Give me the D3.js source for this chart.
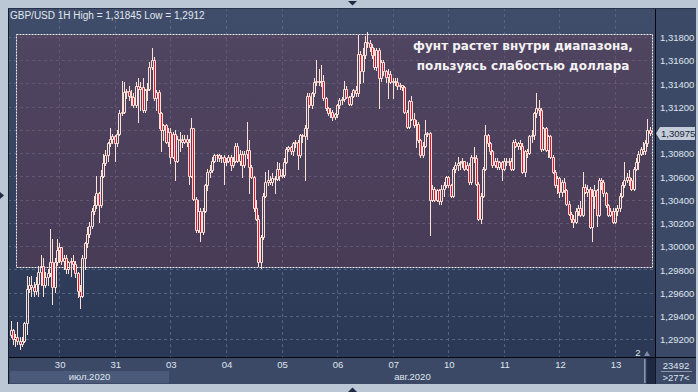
<!DOCTYPE html>
<html>
<head>
<meta charset="utf-8">
<script src="https://cdn.jsdelivr.net/npm/d3@7"></script>
<style>
  html, body { margin: 0; padding: 0; background: #bcc7d6; }
  svg { display: block; }
</style>
</head>
<body>
<svg id="chart" width="698" height="392"></svg>
<script>
//=================== DATA ====================================
var titleText = "GBP/USD 1H High = 1,31845 Low = 1,2912";
var noteLines = ["фунт растет внутри диапазона,", "пользуясь слабостью доллара"];

// hourly bars, 29.07.2020 03:00 .. 13.08.2020 12:00
var opens = [
 1.2924,1.2928,1.2921,1.2922,1.2919,1.2916,1.2919,1.2934,1.2964,1.2967,1.2965,1.2962,
 1.2968,1.2978,1.2983,1.2967,1.2974,1.2977,1.2987,1.2965,1.2987,1.2997,1.3000,1.2988,
 1.2990,1.2981,1.2987,1.2988,1.2985,1.2977,1.2962,1.2958,1.2990,1.3003,1.3011,1.3018,
 1.3031,1.3036,1.3046,1.3036,1.3061,1.3072,1.3079,1.3089,1.3093,1.3095,1.3089,1.3097,
 1.3115,1.3116,1.3133,1.3134,1.3130,1.3129,1.3122,1.3138,1.3136,1.3137,1.3118,1.3135,
 1.3136,1.3155,1.3161,1.3128,1.3133,1.3115,1.3100,1.3105,1.3090,1.3099,1.3077,1.3097,
 1.3074,1.3093,1.3092,1.3090,1.3093,1.3090,1.3061,1.3102,1.3041,1.3014,1.3031,1.3013,
 1.3031,1.3053,1.3064,1.3066,1.3074,1.3079,1.3079,1.3076,1.3077,1.3073,1.3074,1.3077,
 1.3070,1.3074,1.3087,1.3074,1.3080,1.3070,1.3080,1.3083,1.3069,1.3060,1.3033,1.3024,
 1.2987,1.3008,1.3044,1.3056,1.3057,1.3056,1.3059,1.3058,1.3067,1.3061,1.3062,1.3073,
 1.3084,1.3086,1.3082,1.3089,1.3090,1.3079,1.3096,1.3095,1.3102,1.3130,1.3122,1.3132,
 1.3142,1.3143,1.3142,1.3143,1.3128,1.3119,1.3115,1.3116,1.3112,1.3114,1.3122,1.3126,
 1.3127,1.3136,1.3129,1.3123,1.3130,1.3135,1.3132,1.3166,1.3151,1.3165,1.3176,1.3175,
 1.3172,1.3165,1.3155,1.3169,1.3145,1.3159,1.3151,1.3146,1.3149,1.3142,1.3143,1.3142,
 1.3138,1.3139,1.3137,1.3116,1.3103,1.3125,1.3110,1.3105,1.3106,1.3092,1.3079,1.3087,
 1.3097,1.3098,1.3040,1.3050,1.3040,1.3049,1.3039,1.3050,1.3053,1.3060,1.3053,1.3044,
 1.3067,1.3070,1.3072,1.3073,1.3074,1.3067,1.3070,1.3056,1.3077,1.3076,1.3054,1.3024,
 1.3044,1.3067,1.3096,1.3089,1.3082,1.3070,1.3074,1.3069,1.3073,1.3067,1.3074,1.3073,
 1.3074,1.3067,1.3090,1.3087,1.3089,1.3087,1.3064,1.3082,1.3081,1.3095,1.3096,1.3115,
 1.3119,1.3118,1.3084,1.3102,1.3083,1.3095,1.3077,1.3064,1.3053,1.3059,1.3047,1.3056,
 1.3049,1.3037,1.3028,1.3024,1.3021,1.3031,1.3033,1.3027,1.3051,1.3047,1.3050,1.3017,
 1.3044,1.3049,1.3027,1.3057,1.3056,1.3046,1.3036,1.3027,1.3031,1.3021,1.3031,1.3033,
 1.3044,1.3053,1.3057,1.3060,1.3057,1.3050,1.3067,1.3073,1.3080,1.3084,1.3082,1.3089,
 1.3100
];
var highs = [
 1.2936,1.2929,1.2925,1.2935,1.2922,1.2922,1.2935,1.2975,1.2974,1.2975,1.2970,1.2974,
 1.2983,1.2993,1.2990,1.2978,1.2981,1.3015,1.3007,1.2990,1.3007,1.3003,1.3000,1.2993,
 1.2993,1.2988,1.2990,1.2993,1.2988,1.2978,1.2967,1.2993,1.3004,1.3017,1.3021,1.3033,
 1.3044,1.3061,1.3047,1.3066,1.3080,1.3083,1.3090,1.3102,1.3097,1.3096,1.3100,1.3118,
 1.3143,1.3142,1.3136,1.3138,1.3135,1.3132,1.3142,1.3145,1.3142,1.3145,1.3136,1.3141,
 1.3159,1.3171,1.3163,1.3135,1.3135,1.3116,1.3106,1.3106,1.3102,1.3102,1.3099,1.3100,
 1.3095,1.3099,1.3096,1.3096,1.3096,1.3093,1.3111,1.3102,1.3043,1.3040,1.3033,1.3033,
 1.3054,1.3067,1.3070,1.3077,1.3080,1.3080,1.3080,1.3079,1.3079,1.3076,1.3079,1.3079,
 1.3077,1.3089,1.3089,1.3083,1.3082,1.3082,1.3107,1.3092,1.3070,1.3061,1.3040,1.3027,
 1.3010,1.3046,1.3064,1.3066,1.3061,1.3063,1.3061,1.3073,1.3072,1.3067,1.3076,1.3086,
 1.3087,1.3087,1.3090,1.3092,1.3092,1.3097,1.3097,1.3105,1.3132,1.3132,1.3133,1.3145,
 1.3161,1.3153,1.3156,1.3148,1.3129,1.3120,1.3119,1.3118,1.3115,1.3123,1.3128,1.3129,
 1.3143,1.3138,1.3130,1.3132,1.3136,1.3138,1.3182,1.3168,1.3171,1.3181,1.31845,1.3178,
 1.3174,1.3171,1.3171,1.3171,1.3161,1.3161,1.3152,1.3153,1.3151,1.3145,1.3145,1.3145,
 1.3141,1.3139,1.3138,1.3118,1.3126,1.3130,1.3115,1.3109,1.3107,1.3093,1.3090,1.3109,
 1.3099,1.3099,1.3053,1.3051,1.3050,1.3050,1.3053,1.3056,1.3061,1.3061,1.3054,1.3069,
 1.3073,1.3077,1.3074,1.3076,1.3074,1.3073,1.3072,1.3079,1.3086,1.3079,1.3056,1.3046,
 1.3069,1.3105,1.3097,1.3090,1.3083,1.3076,1.3076,1.3074,1.3074,1.3076,1.3076,1.3076,
 1.3076,1.3092,1.3093,1.3090,1.3092,1.3089,1.3083,1.3084,1.3096,1.3100,1.3116,1.3132,
 1.3126,1.3119,1.3103,1.3103,1.3096,1.3096,1.3079,1.3066,1.3061,1.3060,1.3057,1.3059,
 1.3050,1.3039,1.3030,1.3027,1.3033,1.3036,1.3039,1.3064,1.3054,1.3053,1.3051,1.3050,
 1.3053,1.3050,1.3059,1.3059,1.3057,1.3047,1.3037,1.3033,1.3033,1.3033,1.3036,1.3046,
 1.3056,1.3073,1.3063,1.3066,1.3059,1.3069,1.3076,1.3082,1.3086,1.3090,1.3092,1.3110,
 1.3103
];
var lows = [
 1.2922,1.2916,1.2915,1.2916,1.2912,1.2915,1.2918,1.2925,1.2961,1.2958,1.2958,1.2959,
 1.2958,1.2967,1.2958,1.2965,1.2967,1.2975,1.2951,1.2961,1.2984,1.2987,1.2985,1.2981,
 1.2977,1.2977,1.2975,1.2981,1.2974,1.2957,1.2947,1.2957,1.2981,1.3000,1.3008,1.3016,
 1.3028,1.3033,1.3021,1.3034,1.3060,1.3070,1.3074,1.3087,1.3089,1.3074,1.3087,1.3096,
 1.3113,1.3115,1.3128,1.3126,1.3122,1.3120,1.3120,1.3107,1.3118,1.3116,1.3116,1.3126,
 1.3135,1.3153,1.3126,1.3118,1.3102,1.3082,1.3092,1.3089,1.3087,1.3072,1.3076,1.3057,
 1.3073,1.3082,1.3086,1.3089,1.3087,1.3054,1.3060,1.3040,1.3013,1.3013,1.3005,1.3011,
 1.3030,1.3049,1.3060,1.3064,1.3073,1.3074,1.3074,1.3073,1.3054,1.3070,1.3073,1.3066,
 1.3069,1.3073,1.3073,1.3070,1.3060,1.3069,1.3076,1.3046,1.3059,1.3031,1.3023,1.2983,
 1.2982,1.3007,1.3043,1.3053,1.3054,1.3053,1.3046,1.3057,1.3057,1.3060,1.3060,1.3072,
 1.3082,1.3080,1.3079,1.3086,1.3067,1.3077,1.3090,1.3057,1.3093,1.3120,1.3119,1.3130,
 1.3139,1.3139,1.3138,1.3126,1.3118,1.3113,1.3112,1.3109,1.3110,1.3112,1.3119,1.3123,
 1.3125,1.3128,1.3122,1.3122,1.3129,1.3130,1.3130,1.3141,1.3142,1.3162,1.3172,1.3168,
 1.3162,1.3153,1.3152,1.3119,1.3143,1.3148,1.3142,1.3128,1.3141,1.3128,1.3139,1.3136,
 1.3136,1.3135,1.3115,1.3102,1.3102,1.3109,1.3103,1.3086,1.3090,1.3077,1.3077,1.3086,
 1.3095,1.3010,1.3039,1.3039,1.3039,1.3037,1.3037,1.3044,1.3051,1.3051,1.3043,1.3043,
 1.3064,1.3066,1.3067,1.3069,1.3066,1.3066,1.3054,1.3054,1.3073,1.3053,1.3023,1.3020,
 1.3043,1.3066,1.3087,1.3080,1.3069,1.3069,1.3067,1.3067,1.3057,1.3066,1.3070,1.3070,
 1.3066,1.3066,1.3086,1.3084,1.3084,1.3063,1.3061,1.3077,1.3080,1.3090,1.3093,1.3112,
 1.3113,1.3082,1.3083,1.3082,1.3077,1.3076,1.3063,1.3051,1.3046,1.3043,1.3044,1.3047,
 1.3036,1.3027,1.3021,1.3017,1.3020,1.3027,1.3026,1.3026,1.3046,1.3044,1.3016,1.3005,
 1.3033,1.3018,1.3026,1.3050,1.3044,1.3034,1.3026,1.3026,1.3020,1.3020,1.3027,1.3031,
 1.3043,1.3051,1.3056,1.3053,1.3049,1.3049,1.3066,1.3067,1.3079,1.3080,1.3080,1.3087,
 1.3096
];
var closes = [
 1.2928,1.2921,1.2922,1.2919,1.2916,1.2919,1.2934,1.2964,1.2967,1.2965,1.2962,1.2968,
 1.2978,1.2983,1.2967,1.2974,1.2977,1.2987,1.2965,1.2987,1.2997,1.3000,1.2988,1.2990,
 1.2981,1.2987,1.2988,1.2985,1.2977,1.2962,1.2958,1.2990,1.3003,1.3011,1.3018,1.3031,
 1.3036,1.3046,1.3036,1.3061,1.3072,1.3079,1.3089,1.3093,1.3095,1.3089,1.3097,1.3115,
 1.3116,1.3133,1.3134,1.3130,1.3129,1.3122,1.3138,1.3136,1.3137,1.3118,1.3135,1.3136,
 1.3155,1.3161,1.3128,1.3133,1.3115,1.3100,1.3105,1.3090,1.3099,1.3077,1.3097,1.3074,
 1.3093,1.3092,1.3090,1.3093,1.3090,1.3061,1.3102,1.3041,1.3014,1.3031,1.3013,1.3031,
 1.3053,1.3064,1.3066,1.3074,1.3079,1.3079,1.3076,1.3077,1.3073,1.3074,1.3077,1.3070,
 1.3074,1.3087,1.3074,1.3080,1.3070,1.3080,1.3083,1.3069,1.3060,1.3033,1.3024,1.2987,
 1.3008,1.3044,1.3056,1.3057,1.3056,1.3059,1.3058,1.3067,1.3061,1.3062,1.3073,1.3084,
 1.3086,1.3082,1.3089,1.3090,1.3079,1.3096,1.3095,1.3102,1.3130,1.3122,1.3132,1.3142,
 1.3143,1.3142,1.3143,1.3128,1.3119,1.3115,1.3116,1.3112,1.3114,1.3122,1.3126,1.3127,
 1.3136,1.3129,1.3123,1.3130,1.3135,1.3132,1.3166,1.3151,1.3165,1.3176,1.3175,1.3172,
 1.3165,1.3155,1.3169,1.3145,1.3159,1.3151,1.3146,1.3149,1.3142,1.3143,1.3142,1.3138,
 1.3139,1.3137,1.3116,1.3103,1.3125,1.3110,1.3105,1.3106,1.3092,1.3079,1.3087,1.3097,
 1.3098,1.3040,1.3050,1.3040,1.3049,1.3039,1.3050,1.3053,1.3060,1.3053,1.3044,1.3067,
 1.3070,1.3072,1.3073,1.3074,1.3067,1.3070,1.3056,1.3077,1.3076,1.3054,1.3024,1.3044,
 1.3067,1.3096,1.3089,1.3082,1.3070,1.3074,1.3069,1.3073,1.3067,1.3074,1.3073,1.3074,
 1.3067,1.3090,1.3087,1.3089,1.3087,1.3064,1.3082,1.3081,1.3095,1.3096,1.3115,1.3119,
 1.3118,1.3084,1.3102,1.3083,1.3095,1.3077,1.3064,1.3053,1.3059,1.3047,1.3056,1.3049,
 1.3037,1.3028,1.3024,1.3021,1.3031,1.3033,1.3027,1.3051,1.3047,1.3050,1.3017,1.3044,
 1.3049,1.3027,1.3057,1.3056,1.3046,1.3036,1.3027,1.3031,1.3021,1.3031,1.3033,1.3044,
 1.3053,1.3057,1.3060,1.3057,1.3050,1.3067,1.3073,1.3080,1.3084,1.3082,1.3089,1.3100,
 1.30975
];

var priceTicks = [1.292, 1.294, 1.296, 1.298, 1.300, 1.302, 1.304, 1.306, 1.308,
                  1.310, 1.312, 1.314, 1.316, 1.318];
var dayLabels = ["30", "31", "03", "04", "05", "06", "07", "10", "11", "12", "13"];
var dayStartBars = [21, 45, 69, 93, 117, 141, 165, 189, 213, 237, 261];
var monthLabels = ["июл.2020", "авг.2020"];
var monthStartBars = [0, 69];

// range rectangle drawn on the chart
var rangeTop = 1.3183;
var rangeBottom = 1.2982;
var rangeFromBar = 3;
var rangeToBar = 277;

var lastPriceLabel = "1,30975";
var footerNumber = "23492";
var barCountLabel = ">277<";
var subWindowLabel = "2";


function candlechart(targetDOMelement) {
	var chartObject = {};

	//=================== PRIVATE VARIABLES ====================================
	var plotLeft = 8, plotTop = 8, plotRight = 656, plotBottom = 358;
	var panelRight = 696, panelBottom = 384;
	var axisFont = "'Liberation Sans', Arial, sans-serif";
	var textColour = "#dfe5ee";
	var candleColour = "#ffe0d6";
	var downColour = "#e3122f";

	var bars = closes.map(function (c, i) {
		return { i: i, o: opens[i], h: highs[i], l: lows[i], c: c };
	});

	var xScale = d3.scaleLinear()
		.domain([0, bars.length - 1])
		.range([11, 650.3]);
	var yScale = d3.scaleLinear()
		.domain([1.292, 1.318])
		.range([339.7, 37.5]);

	var svg = d3.select(targetDOMelement);
	var defs = svg.append("defs");

	var bgGrad = defs.append("linearGradient")
		.attr("id", "plotBg").attr("x1", 0).attr("y1", 0).attr("x2", 0).attr("y2", 1);
	bgGrad.append("stop").attr("offset", "0%").attr("stop-color", "#3f4d6a");
	bgGrad.append("stop").attr("offset", "100%").attr("stop-color", "#2b3855");

	var lastY = Math.round(yScale(closes[closes.length - 1])) + 0.5;

	function px(v) { return Math.floor(v) + 0.5; }
	function fmtPrice(d) { return d.toFixed(5).replace(".", ","); }

	//=================== PRIVATE FUNCTIONS ====================================
	function drawFrame() {
		svg.append("rect").attr("width", 698).attr("height", 392).attr("fill", "#bcc7d6");
		svg.append("rect")
			.attr("x", plotLeft).attr("y", plotTop)
			.attr("width", plotRight - plotLeft).attr("height", plotBottom - plotTop)
			.attr("fill", "url(#plotBg)");
		// price axis + time axis strips
		svg.append("rect")
			.attr("x", plotRight).attr("y", plotTop)
			.attr("width", panelRight - plotRight).attr("height", panelBottom - plotTop)
			.attr("fill", "#3c4966");
		svg.append("rect")
			.attr("x", plotLeft).attr("y", plotBottom)
			.attr("width", plotRight - plotLeft).attr("height", panelBottom - plotBottom)
			.attr("fill", "#3c4966");
	}

	function drawGrid() {
		var g = svg.append("g").attr("class", "grid")
			.attr("stroke", "#56647f").attr("stroke-dasharray", "3,3");
		g.selectAll("line.h").data(priceTicks).enter().append("line")
			.attr("class", "h")
			.attr("x1", plotLeft).attr("x2", plotRight)
			.attr("y1", function (d) { return px(yScale(d)); })
			.attr("y2", function (d) { return px(yScale(d)); });
		g.selectAll("line.v").data(dayStartBars).enter().append("line")
			.attr("class", "v")
			.attr("y1", plotTop).attr("y2", plotBottom)
			.attr("x1", function (d) { return px(xScale(d)); })
			.attr("x2", function (d) { return px(xScale(d)); });
	}

	function drawRange() {
		var x0 = px(xScale(rangeFromBar)) - 1, x1 = px(xScale(rangeToBar));
		var y0 = px(yScale(rangeTop)), y1 = px(yScale(rangeBottom));
		svg.append("rect")
			.attr("x", x0).attr("y", y0).attr("width", x1 - x0).attr("height", y1 - y0)
			.attr("fill", "rgb(127,55,80)").attr("fill-opacity", 0.3)
			.attr("stroke", "#f0f0f4").attr("stroke-dasharray", "2,1");
	}

	function drawCandles() {
		var grp = svg.append("g").attr("class", "candles");
		var sel = grp.selectAll("g").data(bars).enter().append("g");

		function cx(d) { return Math.floor(xScale(d.i)) + 0.5; }
		function bodyTop(d) { return Math.round(yScale(Math.max(d.o, d.c))) + 0.5; }
		function bodyBot(d) { return Math.round(yScale(Math.min(d.o, d.c))) + 0.5; }

		sel.append("line")
			.attr("x1", cx).attr("x2", cx)
			.attr("y1", function (d) { return Math.round(yScale(d.h)); })
			.attr("y2", bodyTop)
			.attr("stroke", candleColour);
		sel.append("line")
			.attr("x1", cx).attr("x2", cx)
			.attr("y1", bodyBot)
			.attr("y2", function (d) { return Math.round(yScale(d.l)) + 1; })
			.attr("stroke", candleColour);
		sel.append("path")
			.attr("d", function (d) {
				var x = cx(d), t = bodyTop(d), b = bodyBot(d);
				return "M" + (x - 1) + "," + t + "H" + (x + 1) + "V" + b + "H" + (x - 1) + "Z";
			})
			.attr("fill", function (d) { return d.c < d.o ? downColour : "none"; })
			.attr("stroke", candleColour);
	}

	function drawNote() {
		svg.append("g").selectAll("text").data(noteLines).enter().append("text")
			.attr("x", 523)
			.attr("y", function (d, i) { return 49.5 + i * 20; })
			.attr("text-anchor", "middle")
			.style("font-family", "'DejaVu Sans', sans-serif")
			.style("font-weight", "bold")
			.style("font-size", "12px")
			.attr("fill", "#f4f2f4")
			.text(function (d) { return d; });
	}

	function drawAxes() {
		var yAxis = d3.axisRight(yScale)
			.tickValues(priceTicks).tickSize(0).tickPadding(4).tickFormat(fmtPrice);
		var yg = svg.append("g").attr("transform", "translate(" + plotRight + ",0)").call(yAxis);
		yg.select(".domain").remove();
		// the last-price tag hides the tick label under it
		yg.selectAll(".tick")
			.filter(function (d) { return Math.abs(yScale(d) - lastY) < 10; })
			.remove();
		yg.selectAll("text").attr("fill", textColour)
			.style("font-family", axisFont).style("font-size", "9.5px");

		var xAxis = d3.axisBottom(xScale)
			.tickValues(dayStartBars).tickSize(0).tickPadding(3)
			.tickFormat(function (d, i) { return dayLabels[i]; });
		var xg = svg.append("g").attr("transform", "translate(0," + plotBottom + ")").call(xAxis);
		xg.select(".domain").remove();
		xg.selectAll("text").attr("fill", textColour)
			.style("font-family", axisFont).style("font-size", "9.5px");

		// month bands
		var bounds = monthStartBars.map(function (b) { return Math.floor(xScale(b)) - 1; });
		bounds.push(plotRight);
		var mg = svg.append("g");
		mg.selectAll("rect").data(monthLabels).enter().append("rect")
			.attr("x", function (d, i) { return bounds[i]; })
			.attr("y", 371)
			.attr("width", function (d, i) { return bounds[i + 1] - bounds[i]; })
			.attr("height", 12)
			.attr("fill", function (d, i) { return i % 2 === 0 ? "#4b5a78" : "none"; });
		mg.selectAll("text").data(monthLabels).enter().append("text")
			.attr("x", function (d, i) { return (bounds[i] + bounds[i + 1]) / 2; })
			.attr("y", 380)
			.attr("text-anchor", "middle")
			.attr("fill", textColour)
			.style("font-family", axisFont).style("font-size", "9.5px")
			.text(function (d) { return d; });
	}

	function drawDecor() {
		// black separators + borders
		svg.append("line").attr("x1", plotRight - 0.5).attr("x2", plotRight - 0.5)
			.attr("y1", plotTop).attr("y2", panelBottom).attr("stroke", "#05080f");
		svg.append("line").attr("x1", plotLeft).attr("x2", panelRight)
			.attr("y1", plotBottom - 0.5).attr("y2", plotBottom - 0.5).attr("stroke", "#05080f");
		svg.append("line").attr("x1", plotLeft + 0.5).attr("x2", plotLeft + 0.5)
			.attr("y1", plotTop).attr("y2", panelBottom).attr("stroke", "#141c2c");
		svg.append("line").attr("x1", plotLeft).attr("x2", panelRight)
			.attr("y1", plotTop + 0.5).attr("y2", plotTop + 0.5).attr("stroke", "#27324a");

		// last price tag
		svg.append("path")
			.attr("d", "M" + plotRight + "," + lastY + "L660," + (lastY - 6.5) + "H695V" + (lastY + 6.5) + "H660Z")
			.attr("fill", "#c3ccd8");
		svg.append("text").attr("x", 661).attr("y", lastY + 3.5)
			.attr("fill", "#1a2438")
			.style("font-family", axisFont).style("font-size", "9.5px")
			.text(lastPriceLabel);

		// title
		svg.append("text").attr("x", 10).attr("y", 18.5)
			.attr("fill", "#e2e7ef")
			.style("font-family", axisFont).style("font-size", "10px")
			.text(titleText);

		// sub window marker
		svg.append("text").attr("x", 638).attr("y", 356)
			.attr("text-anchor", "middle").attr("fill", textColour)
			.style("font-family", axisFont).style("font-size", "9.5px")
			.text(subWindowLabel);
		svg.append("path").attr("d", "M644,356L650,356L647,351Z").attr("fill", "#7d8aa2");

		// scroll thumb in the time strip
		svg.append("rect").attr("x", 644).attr("y", 359).attr("width", 1.5).attr("height", 24)
			.attr("fill", "#8c98ac");
		svg.append("rect").attr("x", 646.5).attr("y", 358).attr("width", 9).attr("height", 26)
			.attr("fill", "#1f2a42");

		// corner box
		svg.append("text").attr("x", 676).attr("y", 368.5).attr("text-anchor", "middle")
			.attr("fill", textColour)
			.style("font-family", axisFont).style("font-size", "9.5px")
			.text(footerNumber);
		svg.append("line").attr("x1", 661).attr("x2", 692).attr("y1", 371.5).attr("y2", 371.5)
			.attr("stroke", "#8a96aa");
		svg.append("text").attr("x", 676).attr("y", 381).attr("text-anchor", "middle")
			.attr("fill", textColour)
			.style("font-family", axisFont).style("font-size", "9.5px")
			.text(barCountLabel);

		// window arrows
		svg.append("path").attr("d", "M348,1L357,1L352.5,5.5Z").attr("fill", "#1e2a44");
		svg.append("path").attr("d", "M348,392L357,392L352.5,387.5Z").attr("fill", "#1e2a44");
		svg.append("path").attr("d", "M0,192L0,199L4,195.5Z").attr("fill", "#1e2a44");
	}

	function render() {
		drawFrame();
		drawGrid();
		drawRange();
		drawCandles();
		drawNote();
		drawAxes();
		drawDecor();
	}

	chartObject.render = function () {
		render();
		return chartObject;
	};

	return chartObject;
}

candlechart("#chart").render();
</script>
</body>
</html>
